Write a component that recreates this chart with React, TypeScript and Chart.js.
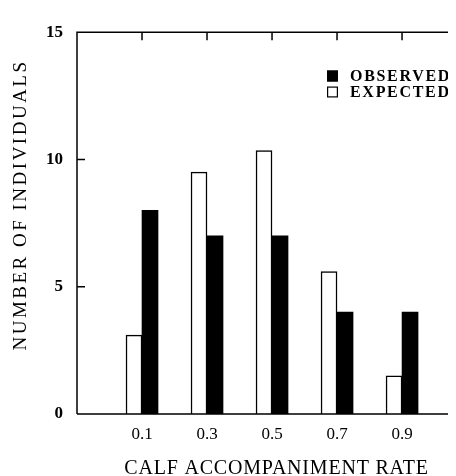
import React, { useEffect, useRef } from "react";
import { Chart, registerables } from "chart.js";

Chart.register(...registerables);

const categories = [0.1, 0.3, 0.5, 0.7, 0.9];
const xTickLabels = ["0.1", "0.3", "0.5", "0.7", "0.9"];
const expectedValues = [3.1, 9.5, 10.35, 5.6, 1.5];
const observedValues = [8, 7, 7, 4, 4];
const yTickValues = [0, 5, 10, 15];
const seriesNames = ["EXPECTED", "OBSERVED"];
const xTitle = "CALF ACCOMPANIMENT RATE";
const yTitle = "NUMBER OF INDIVIDUALS";

const SERIF = "'Liberation Serif', 'Times New Roman', serif";

const decorPlugin = {
  id: "decor",
  afterDatasetsDraw(chart: any) {
    const { ctx, chartArea: ca, scales } = chart;
    const xs = scales.x;
    const ys = scales.y;
    ctx.save();
    ctx.strokeStyle = "#000";
    ctx.lineWidth = 1.5;
    ctx.beginPath();
    ctx.moveTo(ca.left, ca.bottom);
    ctx.lineTo(ca.left, ca.top);
    ctx.lineTo(ca.right, ca.top);
    ctx.moveTo(ca.left, ca.bottom);
    ctx.lineTo(ca.right, ca.bottom);
    categories.forEach((v) => {
      const px = xs.getPixelForValue(v);
      ctx.moveTo(px, ca.top);
      ctx.lineTo(px, ca.top + 8);
    });
    yTickValues.slice(1, -1).forEach((v) => {
      const py = ys.getPixelForValue(v);
      ctx.moveTo(ca.left, py);
      ctx.lineTo(ca.left + 8, py);
    });
    ctx.stroke();

    // legend (observed first, then expected)
    const legendRows = [
      { name: seriesNames[1], fill: "#000" },
      { name: seriesNames[0], fill: "#fff" },
    ];
    ctx.font = `bold 16px ${SERIF}`;
    ctx.textBaseline = "middle";
    ctx.textAlign = "left";
    (ctx as any).letterSpacing = "1.7px";
    legendRows.forEach((r, i) => {
      const cy = 68 + i * 16;
      const bx = 319;
      ctx.fillStyle = r.fill;
      ctx.fillRect(bx, cy - 5.5, 11, 11);
      ctx.lineWidth = 1.2;
      ctx.strokeStyle = "#000";
      ctx.strokeRect(bx + 0.6, cy - 4.9, 9.8, 9.8);
      ctx.fillStyle = "#000";
      ctx.fillText(r.name, 342, cy + 1);
    });

    // axis titles
    ctx.font = `20px ${SERIF}`;
    (ctx as any).letterSpacing = "0.8px";
    ctx.textAlign = "center";
    ctx.textBaseline = "middle";
    ctx.fillText(xTitle, 268.5, 461);

    ctx.font = `19px ${SERIF}`;
    (ctx as any).letterSpacing = "2.5px";
    ctx.translate(13, 197);
    ctx.rotate(-Math.PI / 2);
    ctx.fillText(yTitle, 0, 0);
    ctx.restore();
  },
};

export default function App() {
  const ref = useRef<HTMLCanvasElement | null>(null);
  useEffect(() => {
    if (!ref.current) return;
    const chart = new Chart(ref.current, {
      type: "bar",
      data: {
        datasets: [
          {
            label: seriesNames[0],
            data: categories.map((c, i) => ({ x: c, y: expectedValues[i] })),
            backgroundColor: "#fff",
            borderColor: "#000",
            borderWidth: 1.5,
            barThickness: 16,
          },
          {
            label: seriesNames[1],
            data: categories.map((c, i) => ({ x: c, y: observedValues[i] })),
            backgroundColor: "#000",
            borderColor: "#000",
            borderWidth: 0,
            barThickness: 16,
          },
        ],
      },
      options: {
        animation: false,
        responsive: false,
        layout: { padding: { top: 9, right: 0, left: 0, bottom: 0 } },
        plugins: {
          legend: { display: false },
          tooltip: { enabled: false },
        },
        scales: {
          x: {
            type: "linear",
            min: -0.1,
            max: 1.066,
            offset: false,
            grid: { display: false, drawTicks: false },
            border: { display: false },
            afterBuildTicks: (scale: any) => {
              scale.ticks = categories.map((v) => ({ value: v }));
            },
            afterFit: (scale: any) => {
              scale.height = 62;
            },
            ticks: {
              padding: 10,
              color: "#000",
              font: { family: SERIF, size: 17 },
              maxRotation: 0,
              autoSkip: false,
              callback: (_v: any, i: number) => xTickLabels[i],
            },
          },
          y: {
            min: 0,
            max: 15,
            grid: { display: false, drawTicks: false },
            border: { display: false },
            afterBuildTicks: (scale: any) => {
              scale.ticks = yTickValues.map((v) => ({ value: v }));
            },
            afterFit: (scale: any) => {
              scale.width = 69;
            },
            ticks: {
              padding: 14,
              color: "#000",
              font: { family: SERIF, size: 17, weight: "bold" },
              callback: (v: any) => String(v),
            },
          },
        },
      },
      plugins: [decorPlugin],
    });
    return () => chart.destroy();
  }, []);
  return (
    <canvas
      ref={ref}
      width={448}
      height={468}
      style={{ display: "block", width: 448, height: 468 }}
    />
  );
}
